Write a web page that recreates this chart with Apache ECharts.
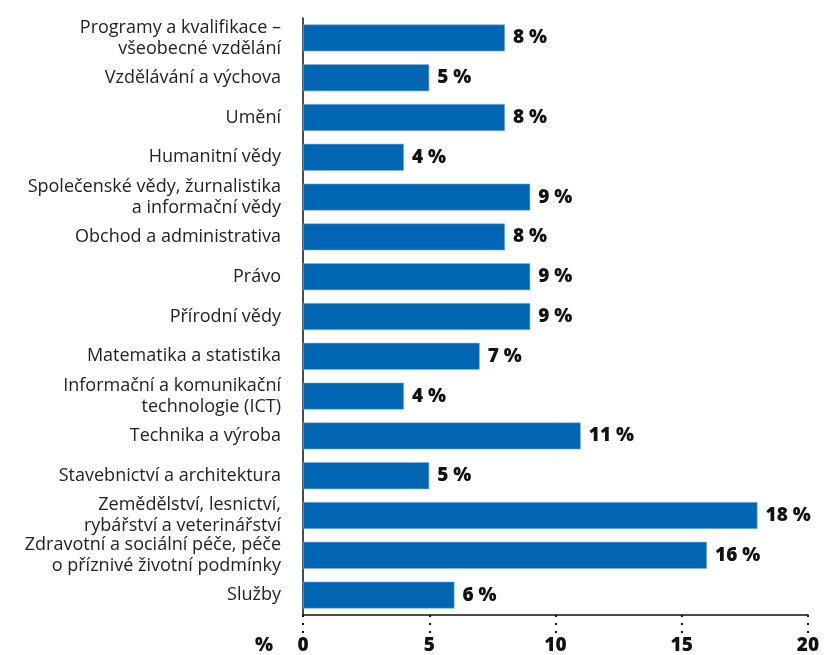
<!DOCTYPE html>
<html>
<head>
<meta charset="utf-8">
<script src="https://cdn.jsdelivr.net/npm/echarts@6/dist/echarts.min.js"></script>
<style>
  html, body { margin: 0; padding: 0; background: #fff; }
  #chart { width: 835px; height: 655px; }
</style>
</head>
<body>
<div id="chart"></div>
<script>
var categories = [
  'Programy a kvalifikace –\nvšeobecné vzdělání',
  'Vzdělávání a výchova',
  'Umění',
  'Humanitní vědy',
  'Společenské vědy, žurnalistika\na informační vědy',
  'Obchod a administrativa',
  'Právo',
  'Přírodní vědy',
  'Matematika a statistika',
  'Informační a komunikační\ntechnologie (ICT)',
  'Technika a výroba',
  'Stavebnictví a architektura',
  'Zemědělství, lesnictví,\nrybářství a veterinářství',
  'Zdravotní a sociální péče, péče\no příznivé životní podmínky',
  'Služby'
];
var values = [8, 5, 8, 4, 9, 8, 9, 9, 7, 4, 11, 5, 18, 16, 6];
var xTicks = [0, 5, 10, 15, 20];

var chart = echarts.init(document.getElementById('chart'));

var option = {
  animation: false,
  grid: {
    top: 18,
    bottom: 40,
    left: 303,
    right: 27,
    containLabel: false
  },
  xAxis: {
    type: 'value',
    min: xTicks[0],
    max: xTicks[xTicks.length - 1],
    interval: 5,
    name: '%',
    nameLocation: 'start',
    nameGap: 30,
    nameTextStyle: {
      fontFamily: 'Open Sans',
      fontWeight: 800,
      fontSize: 19,
      color: '#111',
      verticalAlign: 'top',
      padding: [21, 0, 0, 0]
    },
    axisLine: {
      show: true,
      lineStyle: { color: '#111', width: 1.5 }
    },
    axisTick: {
      show: true,
      length: 18,
      lineStyle: { color: '#111', width: 2, type: [2, 6] }
    },
    axisLabel: {
      margin: 21,
      fontFamily: 'Open Sans',
      fontWeight: 800,
      fontSize: 19,
      color: '#111'
    },
    splitLine: { show: false }
  },
  yAxis: {
    type: 'category',
    inverse: true,
    data: categories,
    axisLine: {
      show: true,
      lineStyle: { color: '#111', width: 1.5 }
    },
    axisTick: { show: false },
    axisLabel: {
      margin: 22,
      fontFamily: 'Open Sans',
      fontSize: 18,
      lineHeight: 21,
      color: '#222',
      align: 'right'
    }
  },
  series: [
    {
      type: 'bar',
      data: values,
      barWidth: 27,
      itemStyle: {
        color: '#0066b3',
        borderColor: '#8bb8de',
        borderWidth: 0.6
      },
      label: {
        show: true,
        position: 'right',
        distance: 8,
        formatter: '{c} %',
        fontFamily: 'Open Sans',
        fontWeight: 800,
        fontSize: 19,
        color: '#111'
      }
    }
  ]
};

chart.setOption(option);
</script>
</body>
</html>
